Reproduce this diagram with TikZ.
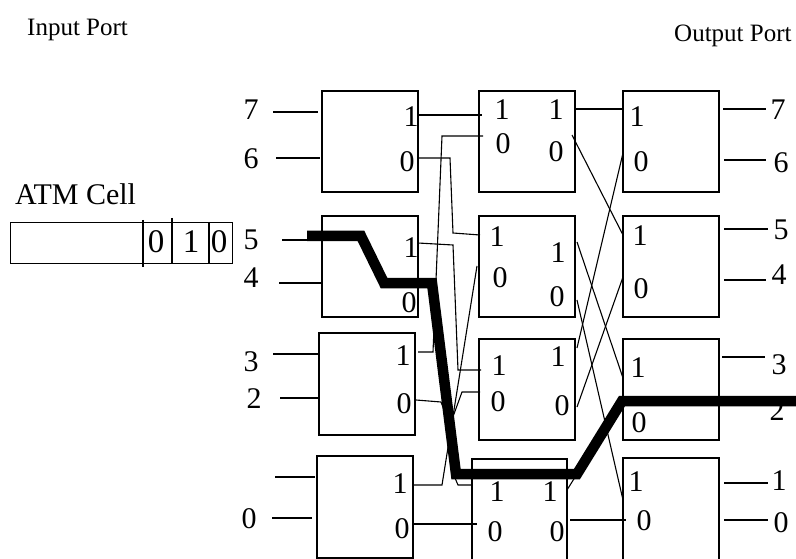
\documentclass[tikz,border=0pt]{standalone}
\usepackage{fontspec}
\setmainfont{Liberation Serif}
\begin{document}
\begin{tikzpicture}[x=1pt,y=-1pt,
  box/.style={draw, line width=1.3pt, minimum width=96pt, minimum height=101pt, inner sep=0pt, outer sep=0pt, anchor=north west},
  wire/.style={line width=1.1pt},
  dig/.style={font=\fontsize{30}{36}\selectfont, inner sep=0pt, anchor=center},
  celldig/.style={font=\fontsize{33}{40}\selectfont, inner sep=0pt, anchor=center},
  head/.style={font=\fontsize{25}{30}\selectfont, inner sep=0pt, anchor=base west},
  route/.style={line width=10.5pt, line join=miter}]
\useasboundingbox (0,0) rectangle (796,559);

% headers
\node[head] (hin) at (27,36) {Input Port};
\node[head] (hout) at (674,42) {Output Port};
\node[font=\fontsize{30}{36}\selectfont, inner sep=0pt, anchor=base west] (hatm) at (15,205) {ATM Cell};

% ATM cell
\node[draw, line width=1.2pt, minimum width=222pt, minimum height=41pt, inner sep=0pt, anchor=north west] (cell) at (10,222) {};
\coordinate (d1t) at (143,220); \coordinate (d1b) at (143,267);
\coordinate (d2t) at (172,218); \coordinate (d2b) at (172,263);
\coordinate (d3t) at (209,222); \coordinate (d3b) at (209,263);
\draw[line width=1.1pt] (d1t) -- (d1b);
\draw[line width=1.1pt] (d2t) -- (d2b);
\draw[line width=1.1pt] (d3t) -- (d3b);
\node[celldig] (c1) at (156,242) {0};
\node[celldig] (c2) at (191,242) {1};
\node[celldig] (c3) at (219,242) {0};

% boxes
\node[box] (b1a) at (322,91) {};
\node[box] (b1b) at (322,216) {};
\node[box, minimum height=102pt] (b1c) at (319,333) {};
\node[box, minimum height=102pt] (b1d) at (317,456) {};
\node[box] (b2a) at (479,91) {};
\node[box] (b2b) at (479,216) {};
\node[box] (b2c) at (479,339) {};
\node[box, minimum width=95pt, minimum height=104pt] (b2d) at (472,459) {};
\node[box] (b3a) at (623,91) {};
\node[box] (b3b) at (623,216) {};
\node[box] (b3c) at (623,339) {};
\node[box, minimum height=104pt] (b3d) at (623,458) {};

% box digits
\node[dig] (t1a1) at (411,117) {1}; \node[dig] (t1a0) at (407,162) {0};
\node[dig] (t1b1) at (411,248) {1}; \node[dig] (t1b0) at (409,303) {0};
\node[dig] (t1c1) at (403,356) {1}; \node[dig] (t1c0) at (404,404) {0};
\node[dig] (t1d1) at (400,484) {1}; \node[dig] (t1d0) at (402,529) {0};
\node[dig] (t2a1) at (502,110) {1}; \node[dig] (t2a0) at (503,144) {0};
\node[dig] (t2a1r) at (556,110) {1}; \node[dig] (t2a0r) at (556,152) {0};
\node[dig] (t2b1) at (497,237) {1}; \node[dig] (t2b0) at (500,278) {0};
\node[dig] (t2b1r) at (558,253) {1}; \node[dig] (t2b0r) at (557,297) {0};
\node[dig] (t2c1) at (499,366) {1}; \node[dig] (t2c0) at (498,402) {0};
\node[dig] (t2c1r) at (558,357) {1}; \node[dig] (t2c0r) at (562,406) {0};
\node[dig] (t2d1) at (497,492) {1}; \node[dig] (t2d0) at (495,532) {0};
\node[dig] (t2d1r) at (550,492) {1}; \node[dig] (t2d0r) at (557,532) {0};
\node[dig] (t3a1) at (637,117) {1}; \node[dig] (t3a0) at (641,162) {0};
\node[dig] (t3b1) at (640,236) {1}; \node[dig] (t3b0) at (641,289) {0};
\node[dig] (t3c1) at (638,368) {1}; \node[dig] (t3c0) at (639,423) {0};
\node[dig] (t3d1) at (636,482) {1}; \node[dig] (t3d0) at (644,521) {0};

% input port labels and lines
\node[dig] (p7) at (251,110) {7};
\node[dig] (p6) at (251,159) {6};
\node[dig] (p5) at (251,240) {5};
\node[dig] (p4) at (251,278) {4};
\node[dig] (p3) at (251,362) {3};
\node[dig] (p2) at (254,399) {2};
\node[dig] (p0) at (249,519) {0};
\coordinate (i7a) at (273,112); \coordinate (i7b) at (318,112);
\coordinate (i6a) at (276,158); \coordinate (i6b) at (320,158);
\coordinate (i5a) at (282,240); \coordinate (i5b) at (310,240);
\coordinate (i4a) at (279,283); \coordinate (i4b) at (322,283);
\coordinate (i3a) at (273,354); \coordinate (i3b) at (318,354);
\coordinate (i2a) at (280,398); \coordinate (i2b) at (320,398);
\coordinate (i1a) at (275,477); \coordinate (i1b) at (315,477);
\coordinate (i0a) at (272,518); \coordinate (i0b) at (312,518);
\foreach \n in {7,6,5,4,3,2,1,0} {\draw[wire] (i\n a) -- (i\n b);}

% output port labels and lines
\node[dig] (q7) at (778,110) {7};
\node[dig] (q6) at (781,163) {6};
\node[dig] (q5) at (781,230) {5};
\node[dig] (q4) at (779,275) {4};
\node[dig] (q3) at (779,365) {3};
\node[dig] (q2) at (777,411) {2};
\node[dig] (q1) at (779,481) {1};
\node[dig] (q0) at (781,523) {0};
\coordinate (o7a) at (723,109); \coordinate (o7b) at (766,109);
\coordinate (o6a) at (724,160); \coordinate (o6b) at (766,160);
\coordinate (o5a) at (724,229); \coordinate (o5b) at (768,229);
\coordinate (o4a) at (724,280); \coordinate (o4b) at (766,280);
\coordinate (o3a) at (722,357); \coordinate (o3b) at (765,357);
\coordinate (o1a) at (724,483); \coordinate (o1b) at (768,483);
\coordinate (o0a) at (724,520); \coordinate (o0b) at (768,520);
\foreach \n in {7,6,5,4,3,1,0} {\draw[wire] (o\n a) -- (o\n b);}

% stage 1 -> stage 2 ports
\coordinate (s1a1) at (418,115); \coordinate (s2a1) at (482,115);
\coordinate (s1a0) at (418,158); \coordinate (s2b1) at (480,235);
\coordinate (s1b1) at (418,243); \coordinate (s2c1) at (481,370);
\coordinate (s1b0) at (418,284); \coordinate (s2d1) at (472,485);
\coordinate (s1c1) at (418,352); \coordinate (s2a0) at (483,136);
\coordinate (s1c0) at (416,400); \coordinate (s2c0) at (480,392);
\coordinate (s1d1) at (413,485); \coordinate (s2b0) at (477,266);
\coordinate (s1d0) at (413,524); \coordinate (s2d0) at (477,524);
\draw[wire] (s1a1) -- (s2a1);
\draw[wire] (s1a0) -- (450,158) -- (453,233) -- (s2b1);
\draw[wire] (s1b1) -- (453,245) -- (458,370) -- (s2c1);
\draw[wire] (s1b0) -- (433,284) -- (455,478) -- (458,485) -- (s2d1);
\draw[wire] (s1c1) -- (433,352) -- (442,136) -- (s2a0);
\draw[wire] (s1c0) -- (441,402) -- (450,425) -- (462,392) -- (s2c0);
\draw[wire] (s1d1) -- (442,485) -- (s2b0);
\draw[wire] (s1d0) -- (s2d0);

% stage 2 -> stage 3 ports
\coordinate (r2a1) at (576,109); \coordinate (r3a1) at (622,109);
\coordinate (r2a0) at (572,135); \coordinate (r3b1) at (623,235);
\coordinate (r2c1) at (577,348); \coordinate (r3a0) at (623,153);
\coordinate (r2b1) at (577,242); \coordinate (r3c1) at (623,378);
\coordinate (r2c0) at (577,407); \coordinate (r3b0) at (623,277);
\coordinate (r2b0) at (577,300); \coordinate (r3d1) at (623,500);
\coordinate (r2d1) at (567,490); \coordinate (r3c0) at (622,402);
\coordinate (r2d0) at (570,520); \coordinate (r3d0) at (626,520);
\draw[wire] (r2a1) -- (r3a1);
\draw[wire] (r2a0) -- (r3b1);
\draw[wire] (r2c1) -- (r3a0);
\draw[wire] (r2b1) -- (r3c1);
\draw[wire] (r2c0) -- (r3b0);
\draw[wire] (r2b0) -- (r3d1);
\draw[wire] (r2d1) -- (r3c0);
\draw[wire] (r2d0) -- (r3d0);

% routed cell path
\coordinate (pstart) at (307,236);
\coordinate (pend) at (796,401);
\draw[route] (pstart) -- (361,236) -- (384,283) -- (432,283) -- (456,474) -- (577,474) -- (622,401) -- (pend);
\end{tikzpicture}
\end{document}
